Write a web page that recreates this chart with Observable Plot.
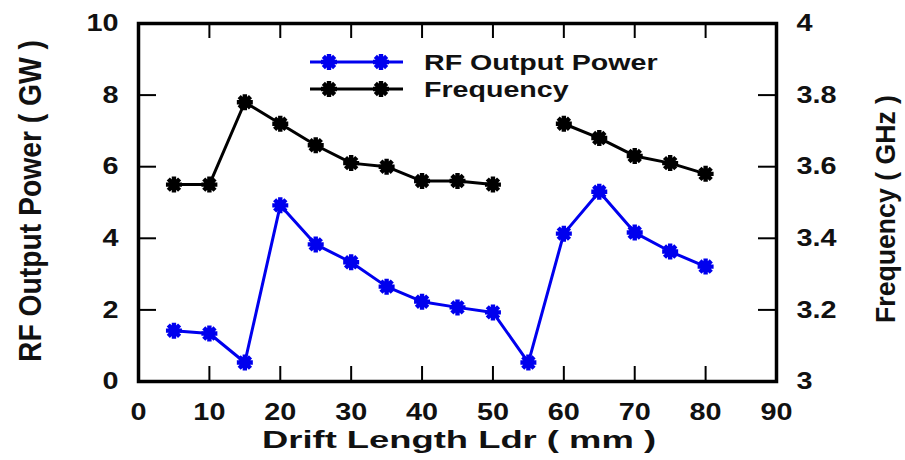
<!DOCTYPE html>
<html>
<head>
<meta charset="utf-8">
<script src="https://cdn.jsdelivr.net/npm/d3@7"></script>
<script src="https://cdn.jsdelivr.net/npm/@observablehq/plot@0.6"></script>
<style>
  html, body { margin: 0; padding: 0; background: #fff; }
  #chart svg { display: block; }
</style>
</head>
<body>
<div id="chart"></div>
<script>
// Drift length sweep (mm) with RF output power (GW) and frequency (GHz)
const driftLength = [5, 10, 15, 20, 25, 30, 35, 40, 45, 50, 55, 60, 65, 70, 75, 80];
const rfPower     = [1.42, 1.34, 0.53, 4.92, 3.83, 3.33, 2.65, 2.23, 2.07, 1.93, 0.53, 4.13, 5.30, 4.16, 3.63, 3.21];
const frequency   = [3.55, 3.55, 3.78, 3.72, 3.66, 3.61, 3.60, 3.56, 3.56, 3.55, null, 3.72, 3.68, 3.63, 3.61, 3.58];

const xTicks      = [0, 10, 20, 30, 40, 50, 60, 70, 80, 90];
const powerTicks  = [0, 2, 4, 6, 8, 10];
const freqTicks   = [3, 3.2, 3.4, 3.6, 3.8, 4];
const xDomain     = [0, 90];
const powerDomain = [0, 10];
const freqDomain  = [3, 4];

const seriesNames = ["RF Output Power", "Frequency"];
const xTitle = "Drift Length Ldr ( mm )";
const leftTitle = "RF Output Power ( GW )";
const rightTitle = "Frequency ( GHz )";

// Frequency shares the power y scale through a linear map onto the right axis
const freqToPower = d3.scaleLinear(freqDomain, powerDomain);
const powerToFreq = freqToPower.invert;

const rows = driftLength.map((x, i) => ({
  x,
  power: rfPower[i],
  freq: frequency[i] == null ? NaN : freqToPower(frequency[i])
}));

const W = 905, H = 460;
const M = {top: 23, right: 129, bottom: 79, left: 138};
const innerW = W - M.left - M.right;
const innerH = H - M.top - M.bottom;
const blue = "#0000ee";
const ink = "#111";
const font = "'Liberation Sans', Arial, Helvetica, sans-serif";

// Eight-spoke asterisk marker
const asterisk = {
  draw(ctx, size) {
    const r = Math.sqrt(size / Math.PI);
    for (let k = 0; k < 4; ++k) {
      const a = k * Math.PI / 4, dx = r * Math.cos(a), dy = r * Math.sin(a);
      ctx.moveTo(-dx, -dy);
      ctx.lineTo(dx, dy);
    }
  }
};

const innerX = xTicks.slice(1, -1);
const innerY = powerTicks.slice(1, -1);
const tickLen = 15;
const markerR = 8, markerW = 4.4;

const plot = Plot.plot({
  width: W,
  height: H,
  marginTop: M.top,
  marginRight: M.right,
  marginBottom: M.bottom,
  marginLeft: M.left,
  style: {fontFamily: font, fontSize: "24px", fontWeight: "bold", color: ink, background: "#fff"},
  x: {domain: xDomain},
  y: {domain: powerDomain},
  marks: [
    Plot.axisX(xTicks, {tickSize: 0, tickPadding: 21, label: null}),
    Plot.axisY(powerTicks, {anchor: "left", tickSize: 0, tickPadding: 20, label: null}),
    Plot.axisY(freqTicks.map(freqToPower), {
      anchor: "right", tickSize: 0, tickPadding: 20, label: null,
      tickFormat: d => d3.format("~g")(+powerToFreq(d).toFixed(3))
    }),
    // inward tick marks on all four sides
    Plot.tickX(innerX, {x: d => d, stroke: "black", strokeWidth: 2, insetTop: innerH - tickLen}),
    Plot.tickX(innerX, {x: d => d, stroke: "black", strokeWidth: 2, insetBottom: innerH - tickLen}),
    Plot.tickY(innerY, {y: d => d, stroke: "black", strokeWidth: 2, insetRight: innerW - tickLen - 3}),
    Plot.tickY(innerY, {y: d => d, stroke: "black", strokeWidth: 2, insetLeft: innerW - tickLen - 3}),
    Plot.frame({stroke: "black", strokeWidth: 3.5}),
    // frequency (black)
    Plot.line(rows, {x: "x", y: "freq", stroke: "black", strokeWidth: 3}),
    Plot.dot(rows.filter(d => !isNaN(d.freq)), {x: "x", y: "freq", symbol: asterisk, r: markerR, stroke: "black", strokeWidth: markerW, fill: "none"}),
    // RF output power (blue)
    Plot.line(rows, {x: "x", y: "power", stroke: blue, strokeWidth: 3}),
    Plot.dot(rows, {x: "x", y: "power", symbol: asterisk, r: markerR, stroke: blue, strokeWidth: markerW, fill: "none"})
  ]
});

document.getElementById("chart").append(plot);
const svg = d3.select(plot);

// widen tick labels slightly
function stretch(el, factor) {
  const len = el.getComputedTextLength();
  el.setAttribute("textLength", len * factor);
  el.setAttribute("lengthAdjust", "spacingAndGlyphs");
}
svg.selectAll('[aria-label$="tick label"] text').each(function() { stretch(this, 1.2); });

// axis titles
function addText(txt, {x, y, size, length, rotate = 0}) {
  const t = svg.append("text")
    .attr("font-family", font)
    .attr("font-weight", "bold")
    .attr("font-size", size)
    .attr("fill", ink)
    .attr("text-anchor", "start")
    .text(txt);
  t.attr("textLength", length).attr("lengthAdjust", "spacingAndGlyphs");
  if (rotate) {
    t.attr("transform", `translate(${x},${y}) rotate(${rotate})`).attr("x", -length / 2);
  } else {
    t.attr("x", x - length / 2).attr("y", y);
  }
  return t;
}
addText(xTitle, {x: 459, y: 448, size: 23, length: 394});
addText(leftTitle, {x: 41, y: 201, size: 31, length: 322, rotate: -90});
addText(rightTitle, {x: 895, y: 209, size: 28, length: 228, rotate: -90});

// legend inside the frame
const legend = svg.append("g").attr("text-anchor", "start");
const legendRows = [
  {name: seriesNames[0], color: blue, y: 62},
  {name: seriesNames[1], color: "black", y: 89}
];
const markerPath = d3.path();
asterisk.draw(markerPath, Math.PI * markerR * markerR);
legendRows.forEach(r => {
  legend.append("line")
    .attr("x1", 310).attr("x2", 403).attr("y1", r.y).attr("y2", r.y)
    .attr("stroke", r.color).attr("stroke-width", 3);
  [329, 381].forEach(cx => legend.append("path")
    .attr("d", markerPath.toString())
    .attr("transform", `translate(${cx},${r.y})`)
    .attr("stroke", r.color).attr("stroke-width", markerW).attr("fill", "none"));
  const t = legend.append("text")
    .attr("x", 424).attr("y", r.y + 8)
    .attr("text-anchor", "start")
    .attr("font-family", font).attr("font-weight", "bold").attr("font-size", 22)
    .attr("fill", ink).text(r.name);
  stretch(t.node(), 1.3);
});
</script>
</body>
</html>
